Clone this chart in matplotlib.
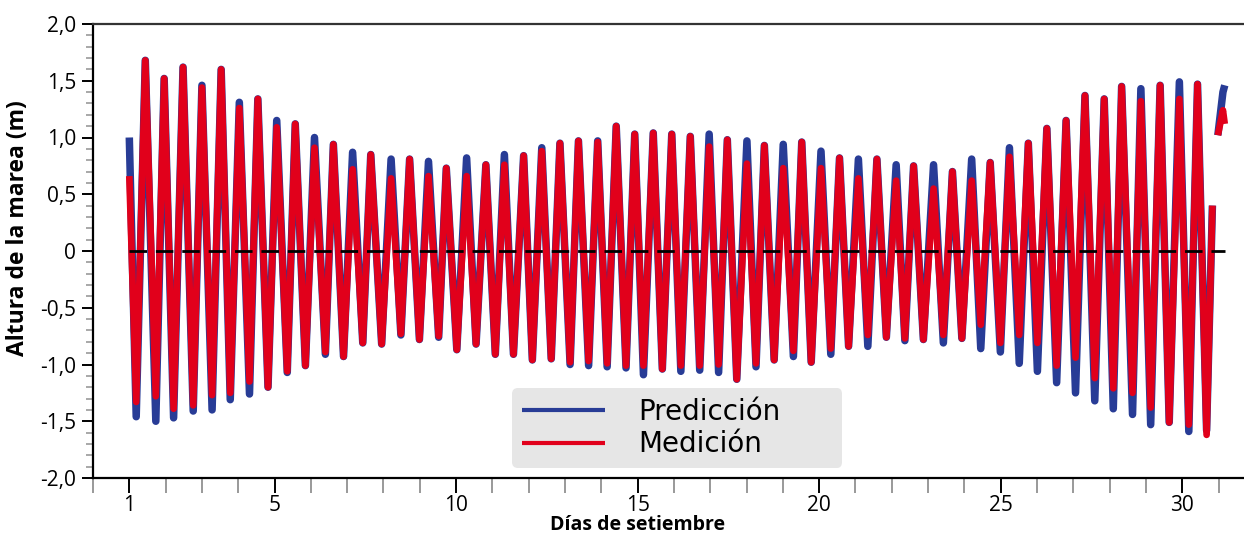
import numpy as np
import matplotlib
matplotlib.use("Agg")
import matplotlib.pyplot as plt
from matplotlib.ticker import MultipleLocator, FixedLocator, FuncFormatter

# tide extremes (day of September, height in m)
dias = [1.00, 1.19, 1.44, 1.73, 1.96, 2.22, 2.48, 2.76, 3.00, 3.28,
        3.53, 3.78, 4.03, 4.31, 4.54, 4.82, 5.06, 5.35, 5.57, 5.85,
        6.10, 6.40, 6.62, 6.90, 7.15, 7.43, 7.65, 7.95, 8.21, 8.48,
        8.72, 8.99, 9.24, 9.52, 9.73, 10.02, 10.29, 10.55, 10.82, 11.08,
        11.33, 11.58, 11.86, 12.10, 12.36, 12.62, 12.86, 13.14, 13.37, 13.65,
        13.90, 14.16, 14.41, 14.68, 14.92, 15.16, 15.43, 15.68, 15.94, 16.19,
        16.45, 16.71, 16.97, 17.23, 17.47, 17.73, 18.01, 18.26, 18.49, 18.76,
        19.01, 19.29, 19.52, 19.78, 20.05, 20.32, 20.56, 20.81, 21.08, 21.34,
        21.59, 21.85, 22.12, 22.36, 22.60, 22.87, 23.15, 23.42, 23.67, 23.93,
        24.20, 24.45, 24.71, 24.99, 25.24, 25.51, 25.76, 26.01, 26.27, 26.54,
        26.80, 27.06, 27.32, 27.59, 27.85, 28.10, 28.33, 28.63, 28.86, 29.13,
        29.39, 29.64, 29.92, 30.18, 30.42, 30.67, 30.83, np.nan, 30.98, 31.12,
        31.17]

prediccion = [1.00, -1.46, 1.68, -1.50, 1.52, -1.47, 1.62, -1.41, 1.46, -1.40,
              1.60, -1.31, 1.31, -1.26, 1.34, -1.20, 1.15, -1.07, 1.12, -1.01,
              1.00, -0.91, 0.94, -0.93, 0.87, -0.81, 0.85, -0.82, 0.81, -0.74,
              0.81, -0.78, 0.79, -0.76, 0.73, -0.87, 0.82, -0.82, 0.76, -0.91,
              0.85, -0.91, 0.84, -0.96, 0.91, -0.95, 0.95, -1.00, 0.97, -1.01,
              0.97, -1.02, 1.10, -1.03, 1.03, -1.09, 1.04, -1.04, 1.03, -1.06,
              1.01, -1.05, 1.03, -1.07, 0.98, -1.13, 0.97, -1.02, 0.93, -0.96,
              0.94, -0.93, 0.96, -0.98, 0.88, -0.91, 0.82, -0.84, 0.81, -0.84,
              0.81, -0.76, 0.76, -0.79, 0.75, -0.78, 0.76, -0.81, 0.70, -0.77,
              0.81, -0.86, 0.78, -0.89, 0.91, -0.99, 0.95, -1.06, 1.08, -1.16,
              1.15, -1.25, 1.37, -1.32, 1.34, -1.39, 1.45, -1.44, 1.43, -1.53,
              1.46, -1.51, 1.49, -1.59, 1.47, -1.58, 0.40, np.nan, 1.02, 1.40,
              1.46]

medicion = [0.66, -1.33, 1.68, -1.28, 1.52, -1.39, 1.62, -1.36, 1.44, -1.27,
            1.60, -1.25, 1.26, -1.15, 1.34, -1.20, 1.09, -1.06, 1.12, -1.01,
            0.91, -0.89, 0.94, -0.93, 0.72, -0.81, 0.85, -0.82, 0.64, -0.73,
            0.81, -0.78, 0.66, -0.75, 0.73, -0.87, 0.66, -0.82, 0.76, -0.91,
            0.76, -0.91, 0.84, -0.96, 0.88, -0.95, 0.95, -0.98, 0.97, -0.97,
            0.96, -0.99, 1.10, -1.01, 1.03, -1.01, 1.04, -1.04, 1.03, -1.01,
            1.01, -1.01, 0.92, -1.00, 0.98, -1.13, 0.77, -0.99, 0.93, -0.96,
            0.73, -0.88, 0.96, -0.98, 0.73, -0.86, 0.82, -0.84, 0.64, -0.74,
            0.81, -0.76, 0.62, -0.77, 0.75, -0.78, 0.55, -0.74, 0.70, -0.77,
            0.62, -0.65, 0.78, -0.81, 0.83, -0.74, 0.95, -0.81, 1.08, -1.01,
            1.15, -0.94, 1.37, -1.12, 1.34, -1.21, 1.45, -1.25, 1.32, -1.38,
            1.46, -1.51, 1.34, -1.53, 1.47, -1.62, 0.40, np.nan, 1.02, 1.24,
            1.12]

xticks_major = [1, 5, 10, 15, 20, 25, 30]
xticks_minor = list(range(0, 32))

plt.rcParams['font.family'] = ['Open Sans', 'DejaVu Sans']

fig = plt.figure(figsize=(12.44, 5.34), dpi=100)
ax = fig.add_axes([93 / 1244, 56 / 534, 1 - 93 / 1244, 454 / 534])

azul = '#283c96'
rojo = '#e1001b'

ax.plot(dias, prediccion, color=azul, lw=5.4, solid_joinstyle='round',
        solid_capstyle='butt', label='Predicción', zorder=2)
ax.plot(dias, medicion, color=rojo, lw=4.8, solid_joinstyle='round',
        solid_capstyle='butt', label='Medición', zorder=3)

# zero reference line
ax.plot([dias[0], dias[-1]], [0, 0], color='black', lw=2.0,
        dashes=(6.3, 3.2), zorder=4)

ax.set_xlim(0, 31.7)
ax.set_ylim(-2.0, 2.0)

ax.xaxis.set_major_locator(FixedLocator(xticks_major))
ax.xaxis.set_minor_locator(FixedLocator([d for d in xticks_minor if d not in xticks_major]))
ax.yaxis.set_major_locator(MultipleLocator(0.5))
ax.yaxis.set_minor_locator(MultipleLocator(0.1))


def fmt(v, pos):
    if abs(v) < 1e-9:
        return '0'
    return ('%.1f' % v).replace('.', ',')


ax.yaxis.set_major_formatter(FuncFormatter(fmt))

ax.tick_params(axis='x', which='major', length=11, width=1.4, color='black',
               labelsize=15, pad=1)
ax.tick_params(axis='x', which='minor', length=11, width=1.4, color='#999999')
ax.tick_params(axis='y', which='major', length=8, width=1.4, color='black',
               labelsize=15, pad=4)
ax.tick_params(axis='y', which='minor', length=5, width=1.2, color='#999999')

ax.spines['right'].set_visible(False)
ax.spines['top'].set_color('#333333')
for s in ['left', 'bottom', 'top']:
    ax.spines[s].set_linewidth(1.6)

ax.set_xlabel('Días de setiembre', fontsize=14, fontweight='bold')
ax.xaxis.set_label_coords((638 - 93) / 1151, -0.081)
ax.set_ylabel('Altura de la marea (m)', fontsize=16.5, fontweight='bold')
ax.yaxis.set_label_coords(-0.055, 0.55)

leg = ax.legend(loc='lower left', bbox_to_anchor=(0.364, 0.022, 0.287, 0.167),
                mode='expand', handlelength=3.0, handletextpad=1.2,
                borderpad=0.35, labelspacing=0.15, borderaxespad=0,
                fancybox=True, prop={'family': 'DejaVu Sans', 'size': 20})
leg.get_frame().set_facecolor('#e6e6e6')
leg.get_frame().set_edgecolor('none')
leg.get_frame().set_alpha(1.0)
for line in leg.get_lines():
    line.set_linewidth(3)

fig.savefig('out.png', dpi=100)
